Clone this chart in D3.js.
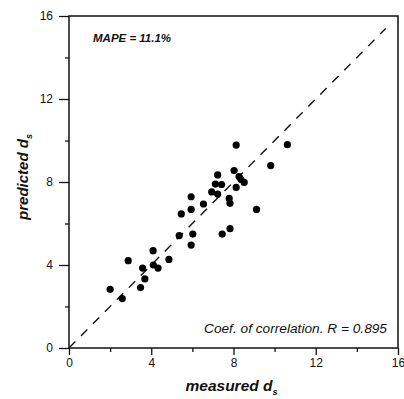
<!DOCTYPE html>
<html>
<head>
<meta charset="utf-8">
<script src="https://cdn.jsdelivr.net/npm/d3@7"></script>
<style>
body { margin: 0; background: #fff; }
svg text { font-family: "Liberation Sans", Arial, sans-serif; fill: #111; }
</style>
</head>
<body>
<div id="chart"></div>
<script>
var width = 404,
height = 399,
plotLeft = 69, plotRight = 398, plotTop = 16, plotBottom = 348;

// measured vs predicted d_s
var measured = [2.00, 2.59, 2.88, 3.48, 3.69, 3.58, 4.09, 4.10, 4.33, 4.86,
	5.36, 5.46, 5.94, 5.94, 6.02, 5.94, 6.54, 6.94, 7.12, 7.23,
	7.42, 7.23, 7.79, 7.83, 7.45, 7.83, 8.03, 8.13, 8.13, 8.27,
	8.36, 8.52, 9.12, 9.81, 10.62];
var predicted = [2.83, 2.38, 4.21, 2.91, 3.33, 3.85, 4.69, 4.00, 3.85, 4.27,
	5.42, 6.46, 7.29, 6.68, 5.49, 4.96, 6.94, 7.52, 7.90, 8.34,
	7.88, 7.42, 7.21, 6.97, 5.49, 5.75, 8.55, 9.78, 7.74, 8.26,
	8.13, 7.98, 6.68, 8.79, 9.80];
var majorTicks = [0, 4, 8, 12, 16];
var minorTicks = [2, 6, 10, 14];
var lineEnd = 15.4;

var data = measured.map(function(d, i) {
	return { x: d, y: predicted[i] };
});

var svg = d3.select("#chart")
.append("svg")
.attr("width", width)
.attr("height", height);

var xScale = d3.scaleLinear().domain([0, 16]).range([plotLeft, plotRight]);
var yScale = d3.scaleLinear().domain([0, 16]).range([plotBottom, plotTop]);

// axes: labelled major ticks, short minor ticks
svg.append("g")
.attr("transform", "translate(0," + plotBottom + ")")
.call(d3.axisBottom(xScale).tickValues(majorTicks).tickSize(7).tickPadding(3).tickFormat(d3.format("d")));
svg.append("g")
.attr("transform", "translate(0," + plotBottom + ")")
.call(d3.axisBottom(xScale).tickValues(minorTicks).tickSize(4).tickFormat(""));
svg.append("g")
.attr("transform", "translate(" + plotLeft + ",0)")
.call(d3.axisLeft(yScale).tickValues(majorTicks).tickSize(10).tickPadding(6).tickFormat(d3.format("d")));
svg.append("g")
.attr("transform", "translate(" + plotLeft + ",0)")
.call(d3.axisLeft(yScale).tickValues(minorTicks).tickSize(4).tickFormat(""));

svg.selectAll(".domain").remove();
svg.selectAll(".tick line").attr("stroke", "#111").attr("stroke-width", 1.3);
svg.selectAll(".tick text")
.attr("font-size", "12px")
.style("font-family", "'Liberation Sans', Arial, sans-serif")
.attr("fill", "#111");

// frame
svg.append("rect")
.attr("x", plotLeft)
.attr("y", plotTop)
.attr("width", plotRight - plotLeft)
.attr("height", plotBottom - plotTop)
.attr("fill", "none")
.attr("stroke", "#111")
.attr("stroke-width", 1.5);

// 1:1 line
svg.append("line")
.attr("x1", xScale(0))
.attr("y1", yScale(0))
.attr("x2", xScale(lineEnd))
.attr("y2", yScale(lineEnd))
.attr("stroke", "#111")
.attr("stroke-width", 1.4)
.attr("stroke-dasharray", "9,8");

svg.selectAll("circle")
.data(data)
.enter()
.append("circle")
.attr("cx", function(d) { return xScale(d.x); })
.attr("cy", function(d) { return yScale(d.y); })
.attr("r", 3.6)
.attr("fill", "#000");

svg.append("text")
.attr("x", 93)
.attr("y", 42)
.attr("font-size", "11.5px")
.attr("font-weight", "bold")
.attr("font-style", "italic")
.text("MAPE = 11.1%");

svg.append("text")
.attr("x", 204)
.attr("y", 333)
.attr("font-size", "12px")
.attr("font-style", "italic")
.attr("textLength", 183)
.attr("lengthAdjust", "spacingAndGlyphs")
.text("Coef. of correlation. R = 0.895");

// axis titles
var xTitle = svg.append("text")
.attr("x", (plotLeft + plotRight) / 2 - 2)
.attr("y", 391)
.attr("text-anchor", "middle")
.attr("font-size", "15.5px")
.attr("font-weight", "bold")
.attr("font-style", "italic");
xTitle.append("tspan").text("measured d");
xTitle.append("tspan").attr("font-size", "9px").attr("dy", 4).text("s");

var yTitle = svg.append("text")
.attr("transform", "translate(28,177) rotate(-90)")
.attr("text-anchor", "middle")
.attr("font-size", "15px")
.attr("font-weight", "bold")
.attr("font-style", "italic");
yTitle.append("tspan").text("predicted d");
yTitle.append("tspan").attr("font-size", "9px").attr("dy", 4).text("s");
</script>
</body>
</html>
